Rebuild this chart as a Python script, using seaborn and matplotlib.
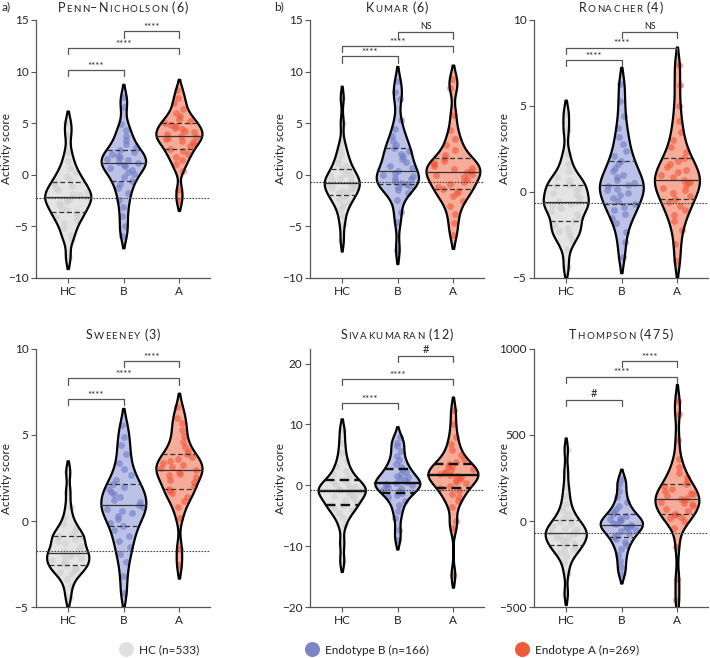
import numpy as np
import matplotlib
matplotlib.use("Agg")
import matplotlib.pyplot as plt
import seaborn as sns
from matplotlib.lines import Line2D
from matplotlib.offsetbox import TextArea, HPacker, AnchoredOffsetbox

sns.set_theme(style="ticks")
plt.rcParams['font.family'] = ['Lato', 'DejaVu Sans']

groups = ["HC", "B", "A"]
legend_labels = ["HC (n=533)", "Endotype B (n=166)", "Endotype A (n=269)"]
titles = ["Penn–Nicholson (6)", "Kumar (6)", "Ronacher (4)",
          "Sweeney (3)", "Sivakumaran (12)", "Thompson (475)"]

# activity scores (approximate distributions per group)
penn_hc = [-8.0, -6.3, -5.8, -5.2, -4.7, -4.4, -4.1, -3.85, -3.65, -3.4, -3.2, -2.95, -2.75, -2.6, -2.45, -2.3, -2.16,
           -2.0, -1.85, -1.7, -1.5, -1.3, -1.1, -0.9, -0.65, -0.4, -0.1, 0.25, 0.7, 1.3, 2.2, 3.9, 5.0]
penn_b = [-5.9, -5.0, -4.0, -3.1, -2.4, -1.8, -1.3, -0.9, -0.57, -0.25, 0.05, 0.3, 0.5, 0.7, 0.85, 0.98, 1.1,
          1.25, 1.4, 1.55, 1.7, 1.85, 2.0, 2.2, 2.4, 2.7, 3.0, 3.4, 3.8, 4.3, 4.9, 6.6, 7.5]
penn_a = [-2.55, -1.5, 0.4, 1.0, 1.4, 1.75, 2.05, 2.3, 2.5, 2.75, 2.95, 3.15, 3.3, 3.45, 3.6, 3.7, 3.8,
          3.95, 4.1, 4.25, 4.4, 4.55, 4.7, 4.85, 5.0, 5.2, 5.45, 5.7, 6.0, 6.4, 7.0, 7.4, 8.25]

kumar_hc = [-6.35, -4.8, -4.0, -3.3, -2.9, -2.6, -2.35, -2.15, -1.95, -1.75, -1.6, -1.45, -1.3, -1.15, -1.0, -0.88, -0.77,
            -0.65, -0.5, -0.35, -0.2, -0.05, 0.1, 0.35, 0.6, 0.85, 1.15, 1.5, 1.9, 2.4, 3.1, 5.0, 7.45]
kumar_b = [-7.25, -4.6, -3.6, -2.4, -1.8, -1.45, -1.2, -1.05, -0.9, -0.75, -0.6, -0.45, -0.3, -0.15, 0.0, 0.2, 0.4,
           0.65, 0.9, 1.2, 1.5, 1.8, 2.05, 2.3, 2.6, 2.9, 3.3, 3.8, 4.4, 5.3, 7.3, 8.0, 9.05]
kumar_a = [-5.85, -4.7, -3.8, -3.0, -2.5, -2.1, -1.8, -1.6, -1.4, -1.15, -0.9, -0.65, -0.45, -0.25, -0.05, 0.1, 0.26,
           0.4, 0.55, 0.7, 0.85, 1.0, 1.15, 1.35, 1.6, 1.95, 2.4, 2.9, 3.5, 4.3, 5.8, 8.4, 9.25]

ronacher_hc = [-4.35, -3.3, -2.8, -2.55, -2.4, -2.25, -2.1, -1.9, -1.7, -1.5, -1.3, -1.1, -0.95, -0.85, -0.75, -0.68, -0.6,
               -0.5, -0.35, -0.2, -0.05, 0.1, 0.25, 0.35, 0.43, 0.55, 0.7, 0.9, 1.2, 1.6, 2.2, 3.6, 4.55]
ronacher_b = [-3.8, -2.9, -2.3, -1.8, -1.5, -1.25, -1.05, -0.85, -0.68, -0.5, -0.35, -0.2, -0.05, 0.1, 0.2, 0.32, 0.43,
              0.55, 0.7, 0.85, 1.0, 1.2, 1.4, 1.6, 1.8, 2.1, 2.4, 2.8, 3.2, 3.7, 4.4, 5.3, 6.3]
ronacher_a = [-4.0, -3.0, -2.2, -1.7, -1.35, -1.05, -0.8, -0.6, -0.43, -0.25, -0.05, 0.1, 0.25, 0.4, 0.5, 0.6, 0.72,
              0.85, 1.0, 1.15, 1.3, 1.45, 1.6, 1.8, 2.0, 2.3, 2.6, 3.0, 3.5, 4.1, 5.0, 6.2, 7.4]

sweeney_hc = [-4.45, -3.8, -3.4, -3.1, -2.95, -2.85, -2.75, -2.65, -2.57, -2.45, -2.35, -2.25, -2.15, -2.05, -1.98, -1.9, -1.84,
              -1.75, -1.6, -1.45, -1.3, -1.15, -1.05, -0.95, -0.87, -0.75, -0.6, -0.4, -0.15, 0.2, 0.8, 1.7, 2.85]
sweeney_b = [-4.2, -3.2, -2.4, -1.9, -1.5, -1.15, -0.85, -0.55, -0.31, -0.1, 0.1, 0.3, 0.45, 0.6, 0.72, 0.84, 0.95,
             1.1, 1.25, 1.4, 1.55, 1.7, 1.85, 2.0, 2.17, 2.4, 2.7, 3.0, 3.4, 3.9, 4.4, 4.9, 5.6]
sweeney_a = [-2.55, -1.6, 0.2, 0.8, 1.15, 1.4, 1.6, 1.75, 1.85, 2.05, 2.25, 2.4, 2.55, 2.65, 2.75, 2.86, 2.96,
             3.06, 3.16, 3.26, 3.36, 3.48, 3.6, 3.72, 3.87, 4.05, 4.3, 4.6, 4.95, 5.3, 5.7, 6.0, 6.6]

siva_hc = [-12.5, -9.5, -6.6, -5.4, -4.6, -4.1, -3.75, -3.45, -3.17, -2.8, -2.45, -2.1, -1.8, -1.55, -1.35, -1.15, -0.98,
           -0.8, -0.6, -0.4, -0.2, 0.0, 0.25, 0.55, 0.92, 1.3, 1.8, 2.4, 3.1, 4.0, 5.3, 7.0, 9.1]
siva_b = [-9.0, -7.3, -5.3, -4.2, -3.2, -2.5, -2.0, -1.6, -1.27, -0.95, -0.7, -0.45, -0.25, -0.05, 0.1, 0.22, 0.35,
          0.55, 0.8, 1.05, 1.3, 1.6, 1.9, 2.25, 2.6, 3.0, 3.5, 4.1, 4.8, 5.6, 6.5, 7.0, 8.0]
siva_a = [-14.8, -7.0, -5.8, -3.6, -2.6, -1.9, -1.4, -0.95, -0.52, -0.1, 0.3, 0.6, 0.9, 1.1, 1.3, 1.45, 1.62,
          1.8, 2.0, 2.2, 2.45, 2.7, 2.95, 3.2, 3.46, 3.9, 4.4, 5.0, 5.8, 6.8, 8.0, 10.0, 12.4]

thompson_hc = [-423, -300, -240, -205, -185, -170, -160, -150, -141, -130, -120, -110, -100, -92, -85, -78, -72,
               -65, -57, -48, -40, -30, -20, -8, 4, 20, 40, 65, 100, 145, 200, 290, 414]
thompson_b = [-311, -270, -230, -195, -165, -140, -122, -107, -93, -80, -68, -58, -50, -42, -35, -29, -23,
              -16, -9, -2, 5, 12, 20, 30, 42, 55, 70, 88, 110, 140, 175, 215, 246]
thompson_a = [-460, -340, -150, -40, 0, 15, 25, 33, 42, 58, 72, 85, 96, 105, 113, 120, 126,
              135, 145, 155, 165, 175, 188, 202, 218, 235, 255, 280, 315, 360, 470, 620, 700]

# dotted reference line per panel
ref_levels = [-2.2, -0.7, -0.62, -1.74, -0.8, -72]

# significance brackets: (group1, group2, height, label)
penn_brackets = [("HC", "B", 10.2, "****"), ("HC", "A", 12.3, "****"), ("B", "A", 13.9, "****")]
kumar_brackets = [("HC", "B", 11.5, "****"), ("HC", "A", 12.5, "****"), ("B", "A", 13.8, "NS")]
ronacher_brackets = [("HC", "B", 7.7, "****"), ("HC", "A", 8.4, "****"), ("B", "A", 9.3, "NS")]
sweeney_brackets = [("HC", "B", 7.1, "****"), ("HC", "A", 8.3, "****"), ("B", "A", 9.3, "****")]
siva_brackets = [("HC", "B", 13.6, "****"), ("HC", "A", 17.5, "****"), ("B", "A", 21.3, "#")]
thompson_brackets = [("HC", "B", 704, "#"), ("HC", "A", 840, "****"), ("B", "A", 932, "****")]

panels = [
    (penn_hc, penn_b, penn_a, penn_brackets),
    (kumar_hc, kumar_b, kumar_a, kumar_brackets),
    (ronacher_hc, ronacher_b, ronacher_a, ronacher_brackets),
    (sweeney_hc, sweeney_b, sweeney_a, sweeney_brackets),
    (siva_hc, siva_b, siva_a, siva_brackets),
    (thompson_hc, thompson_b, thompson_a, thompson_brackets),
]

# ---- styling ----
ylims = [(-10, 15), (-10, 15), (-5, 10), (-5, 10), (-20, 22.4), (-500, 1000)]
yticks = [[-10, -5, 0, 5, 10, 15], [-10, -5, 0, 5, 10, 15], [-5, 0, 5, 10],
          [-5, 0, 5, 10], [-20, -10, 0, 10, 20], [-500, 0, 500, 1000]]
violin_widths = [(0.83, 0.80, 0.83), (0.63, 0.76, 0.97), (0.81, 0.79, 0.81),
                 (0.76, 0.81, 0.83), (0.85, 0.81, 0.90), (0.74, 0.76, 0.79)]
inner_style = [("#333333", 0.9)] * 4 + [("#111111", 1.7), ("#333333", 0.9)]
BW = 0.55
CUT = 1.5
fill_colors = ["#e4e4e4", "#bcc2e7", "#f7ab99"]
point_colors = ["#cfcfcf", "#6e7bc4", "#f0573a"]
legend_colors = ["#e0e0e0", "#7b84c4", "#ef5a3a"]
legend_x = [126, 312, 522]
FIG_W, FIG_H = 710, 658
col_left = [36, 310, 534]
row_top = [20, 349]
title_y = [1.023, 1.031]
ax_w, ax_h = 174, 258
TXT = "#222222"
AXC = "#555555"


def smallcaps_title(ax, text, y, size=9.0, ratio=0.78, track=0.85):
    # small caps with a little letter spacing, built from one text box per character
    words = []
    for word in text.split(" "):
        boxes = [TextArea(ch.upper(), textprops=dict(fontsize=size * ratio if ch.islower() else size, color=TXT))
                 for ch in word]
        words.append(HPacker(children=boxes, align="baseline", pad=0, sep=track))
    pack = HPacker(children=words, align="baseline", pad=0, sep=3.2)
    box = AnchoredOffsetbox(loc="lower center", child=pack, frameon=False, pad=0, borderpad=0,
                            bbox_to_anchor=(0.5, y), bbox_transform=ax.transAxes)
    ax.add_artist(box)


def violin_halfwidth(vals, ys, width):
    # same gaussian KDE (scott * bw_adjust) that seaborn uses, scaled to the violin width
    v = np.asarray(vals, float)
    bw = v.std(ddof=1) * len(v) ** (-0.2) * BW
    dens = lambda y: np.exp(-0.5 * ((np.asarray(y)[:, None] - v[None, :]) / bw) ** 2).sum(1)
    grid = np.linspace(v.min() - CUT * bw, v.max() + CUT * bw, 100)
    return 0.5 * width * dens(ys) / dens(grid).max()


rng = np.random.default_rng(7)
fig = plt.figure(figsize=(FIG_W / 100, FIG_H / 100), dpi=100)

for k, (hc, b, a, brackets) in enumerate(panels):
    r, c = divmod(k, 3)
    rect = [col_left[c] / FIG_W, 1 - (row_top[r] + ax_h) / FIG_H, ax_w / FIG_W, ax_h / FIG_H]
    ax = fig.add_axes(rect)
    series = [hc, b, a]

    # filled violin bodies
    for i, g in enumerate(groups):
        vals = series[i]
        sns.violinplot(x=[g] * len(vals), y=vals, order=groups, ax=ax, color=fill_colors[i],
                       width=violin_widths[k][i], density_norm="width", cut=CUT, bw_adjust=BW,
                       inner=None, linewidth=0, saturation=1)

    # points spread inside each violin
    for i, g in enumerate(groups):
        vals = np.asarray(series[i], float)
        hw = violin_halfwidth(vals, vals, violin_widths[k][i])
        xs = i + rng.uniform(-0.85, 0.85, len(vals)) * hw
        ax.scatter(xs, vals, s=24, color=point_colors[i], alpha=0.6, linewidths=0)

    # outlines + quartile lines
    icol, ilw = inner_style[k]
    for i, g in enumerate(groups):
        vals = series[i]
        n0 = len(ax.lines)
        sns.violinplot(x=[g] * len(vals), y=vals, order=groups, ax=ax, color="black", fill=False,
                       width=violin_widths[k][i], density_norm="width", cut=CUT, bw_adjust=BW,
                       inner="quart", linewidth=1.6,
                       inner_kws=dict(color=icol, linewidth=ilw))
        new = sorted(ax.lines[n0:], key=lambda ln: np.mean(ln.get_ydata()))
        for j, ln in enumerate(new):
            ln.set_linestyle("-" if j == 1 else (0, (4, 2.2)))

    ax.axhline(ref_levels[k], color="#444444", linestyle=(0, (1.5, 1.2)), linewidth=0.8, zorder=4)

    lo, hi = ylims[k]
    span = hi - lo
    for g1, g2, h, lab in brackets:
        x1, x2 = groups.index(g1), groups.index(g2)
        ax.plot([x1, x1, x2, x2], [h - 0.025 * span, h, h, h - 0.025 * span],
                color="#555555", linewidth=0.9, clip_on=False, zorder=5)
        fs = 8 if lab == "#" else (6.4 if lab == "NS" else 7)
        off = 0.012 * span if lab != "****" else 0.004 * span
        ax.text((x1 + x2) / 2, h + off, lab, ha="center", va="baseline", fontsize=fs, color=TXT)

    ax.set_xlim(-0.58, 2.55)
    ax.set_ylim(lo, hi)
    ax.set_yticks(yticks[k])
    ax.set_xlabel("")
    ax.set_ylabel("Activity score", fontsize=8.5, color=TXT)
    ax.yaxis.set_label_coords(-0.14, 0.5)
    sns.despine(ax=ax)
    for s in ["left", "bottom"]:
        ax.spines[s].set_color(AXC)
        ax.spines[s].set_linewidth(0.9)
    ax.tick_params(length=3.5, width=0.8, color=AXC, labelsize=8.5, labelcolor=TXT, pad=2)
    smallcaps_title(ax, titles[k], title_y[r])

fig.text(2 / FIG_W, 1 - 7 / FIG_H, "a)", fontsize=8.5, color=TXT, va="center")
fig.text(274 / FIG_W, 1 - 7 / FIG_H, "b)", fontsize=8.5, color=TXT, va="center")

for col, lab, lx in zip(legend_colors, legend_labels, legend_x):
    h = Line2D([], [], marker="o", linestyle="", markersize=10.8,
               markerfacecolor=col, markeredgecolor="none")
    fig.legend([h], [lab], loc="center left", bbox_to_anchor=((lx - 7) / FIG_W, 1 - 650 / FIG_H),
               frameon=False, fontsize=8.5, handlelength=1.2, handletextpad=0.5,
               borderaxespad=0, borderpad=0, labelcolor=TXT)

fig.savefig("out.png", dpi=100)
